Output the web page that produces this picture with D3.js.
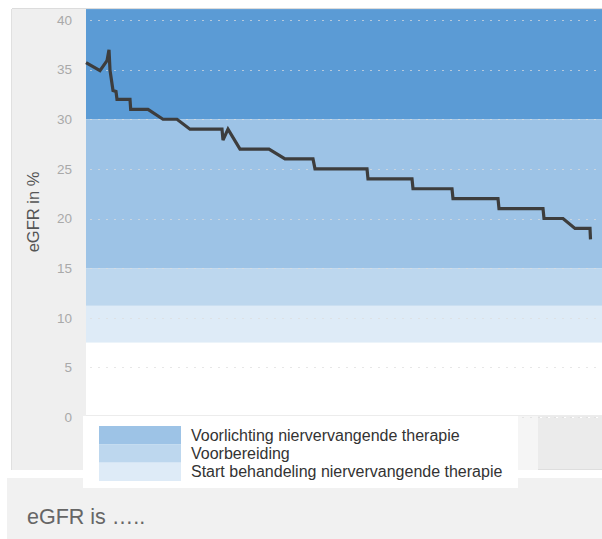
<!DOCTYPE html>
<html>
<head>
<meta charset="utf-8">
<script src="https://cdn.jsdelivr.net/npm/d3@7"></script>
<style>
  html, body { margin: 0; padding: 0; background: #ffffff; }
  svg { display: block; }
</style>
</head>
<body>
<svg id="chart" width="602" height="539"></svg>
<script>
// ---- data ----
const days = [0, 14, 21, 23, 24, 27, 30, 31, 44, 44.7, 62, 77, 91, 104, 136, 137, 142, 154, 183, 199, 227, 229, 281, 282, 326, 327, 366, 367, 412, 413, 457, 458, 477, 489, 504, 504.5];
const egfr = [35.7, 34.9, 35.9, 37.0, 34.95, 32.9, 32.8, 32.0, 32.0, 31.0, 31.0, 30.0, 30.0, 29.0, 29.0, 27.9, 29.0, 27.0, 27.0, 26.0, 26.0, 25.0, 25.0, 24.0, 24.0, 23.0, 23.0, 22.0, 22.0, 21.0, 21.0, 20.0, 20.0, 19.0, 19.0, 17.9];
const yTicks = [0, 5, 10, 15, 20, 25, 30, 35, 40];
const bandTops = [41.1, 30, 15, 11.2];
const bandBottoms = [30, 15, 11.2, 7.5];
const bandColors = ["#5b9bd5", "#9dc3e6", "#bdd7ee", "#deebf7"];
const legendLabels = ["Voorlichting niervervangende therapie", "Voorbereiding", "Start behandeling niervervangende therapie"];
const legendColors = ["#9dc3e6", "#bdd7ee", "#deebf7"];
const yTitle = "eGFR in %";
const footerText = "eGFR is \u2026..";

// ---- layout ----
const svg = d3.select("#chart");
const plotLeft = 86, plotRight = 602, plotTop = 9, plotBottom = 415;
const x = d3.scaleLinear().domain([0, 516]).range([plotLeft, plotRight]);
const y = d3.scaleLinear().domain([0, 40]).range([417, 20]);

// background panels
svg.append("rect").attr("x", 7).attr("y", 478).attr("width", 595).attr("height", 61).attr("fill", "#f1f1f1");
svg.append("rect").attr("x", 12).attr("y", 9).attr("width", 74).attr("height", 461).attr("fill", "#efefef");
svg.append("line").attr("x1", 11.5).attr("x2", 11.5).attr("y1", 9).attr("y2", 470).attr("stroke", "#e0e0e0");
svg.append("line").attr("x1", 12).attr("x2", 602).attr("y1", 8.5).attr("y2", 8.5).attr("stroke", "#dcdcdc");
// area right of legend
svg.append("rect").attr("x", 518).attr("y", 416).attr("width", 20).attr("height", 54).attr("fill", "#f5f5f5");
svg.append("rect").attr("x", 538).attr("y", 416).attr("width", 64).attr("height", 53).attr("fill", "#ebebeb");
svg.append("line").attr("x1", 538).attr("x2", 602).attr("y1", 469.5).attr("y2", 469.5).attr("stroke", "#dedede");

// plot background
const plot = svg.append("g");
plot.append("rect").attr("x", plotLeft).attr("y", plotTop).attr("width", plotRight - plotLeft).attr("height", plotBottom - plotTop).attr("fill", "#ffffff");

// bands
plot.selectAll("rect.band").data(bandTops).join("rect")
  .attr("class", "band")
  .attr("x", plotLeft)
  .attr("width", plotRight - plotLeft)
  .attr("y", d => y(d))
  .attr("height", (d, i) => y(bandBottoms[i]) - y(d))
  .attr("fill", (d, i) => bandColors[i]);

// gridlines
plot.selectAll("line.grid").data(yTicks).join("line")
  .attr("class", "grid")
  .attr("x1", plotLeft + 4).attr("x2", plotRight)
  .attr("y1", d => Math.round(y(d)) + 0.5).attr("y2", d => Math.round(y(d)) + 0.5)
  .attr("stroke", "#dddddd").attr("stroke-opacity", 0.7)
  .attr("stroke-width", 1.2)
  .attr("stroke-dasharray", "2,6");

// y axis labels
const yAxis = d3.axisLeft(y).tickValues(yTicks).tickSize(0).tickPadding(0);
const yg = svg.append("g").attr("transform", "translate(72,0)").call(yAxis);
yg.select(".domain").remove();
yg.selectAll("text").attr("fill", "#a9a9a9").attr("font-size", 13.5).attr("font-family", "'Liberation Sans', Arial, sans-serif");

// y title
svg.append("text")
  .attr("transform", "translate(39,212) rotate(-90)")
  .attr("text-anchor", "middle")
  .attr("font-family", "'Liberation Sans', Arial, sans-serif")
  .attr("font-size", 16.5)
  .attr("fill", "#555555")
  .text(yTitle);

// line
const pts = days.map((d, i) => [d, egfr[i]]);
const lineGen = d3.line().x(d => x(d[0])).y(d => y(d[1])).curve(d3.curveLinear);
plot.append("path").datum(pts)
  .attr("d", lineGen)
  .attr("fill", "none")
  .attr("stroke", "#3d3d3d")
  .attr("stroke-width", 3.2)
  .attr("stroke-linejoin", "miter")
  .attr("stroke-miterlimit", 3);

// legend
const lg = svg.append("g");
lg.append("rect").attr("x", 83).attr("y", 416).attr("width", 435).attr("height", 72).attr("fill", "#ffffff");
lg.append("line").attr("x1", 86).attr("x2", 602).attr("y1", 415.5).attr("y2", 415.5).attr("stroke", "#ececec");
// zero gridline visible to the right of the legend
lg.append("line")
  .attr("x1", 540).attr("x2", plotRight)
  .attr("y1", Math.round(y(0)) + 0.5).attr("y2", Math.round(y(0)) + 0.5)
  .attr("stroke", "#ffffff").attr("stroke-width", 1.2)
  .attr("stroke-dasharray", "2,6");
lg.selectAll("rect.sw").data(legendColors).join("rect")
  .attr("class", "sw")
  .attr("x", 99).attr("width", 82)
  .attr("y", (d, i) => 426 + i * 18.3)
  .attr("height", 18.4)
  .attr("fill", d => d);
lg.selectAll("text.lt").data(legendLabels).join("text")
  .attr("class", "lt")
  .attr("x", 191)
  .attr("y", (d, i) => 440.5 + i * 18.3)
  .attr("font-family", "'Liberation Sans', Arial, sans-serif")
  .attr("font-size", 16)
  .attr("fill", "#333333")
  .text(d => d);

// footer text
svg.append("text")
  .attr("x", 27).attr("y", 524)
  .attr("font-family", "'Liberation Sans', Arial, sans-serif")
  .attr("font-size", 21.5)
  .attr("fill", "#666666")
  .text(footerText);
</script>
</body>
</html>
